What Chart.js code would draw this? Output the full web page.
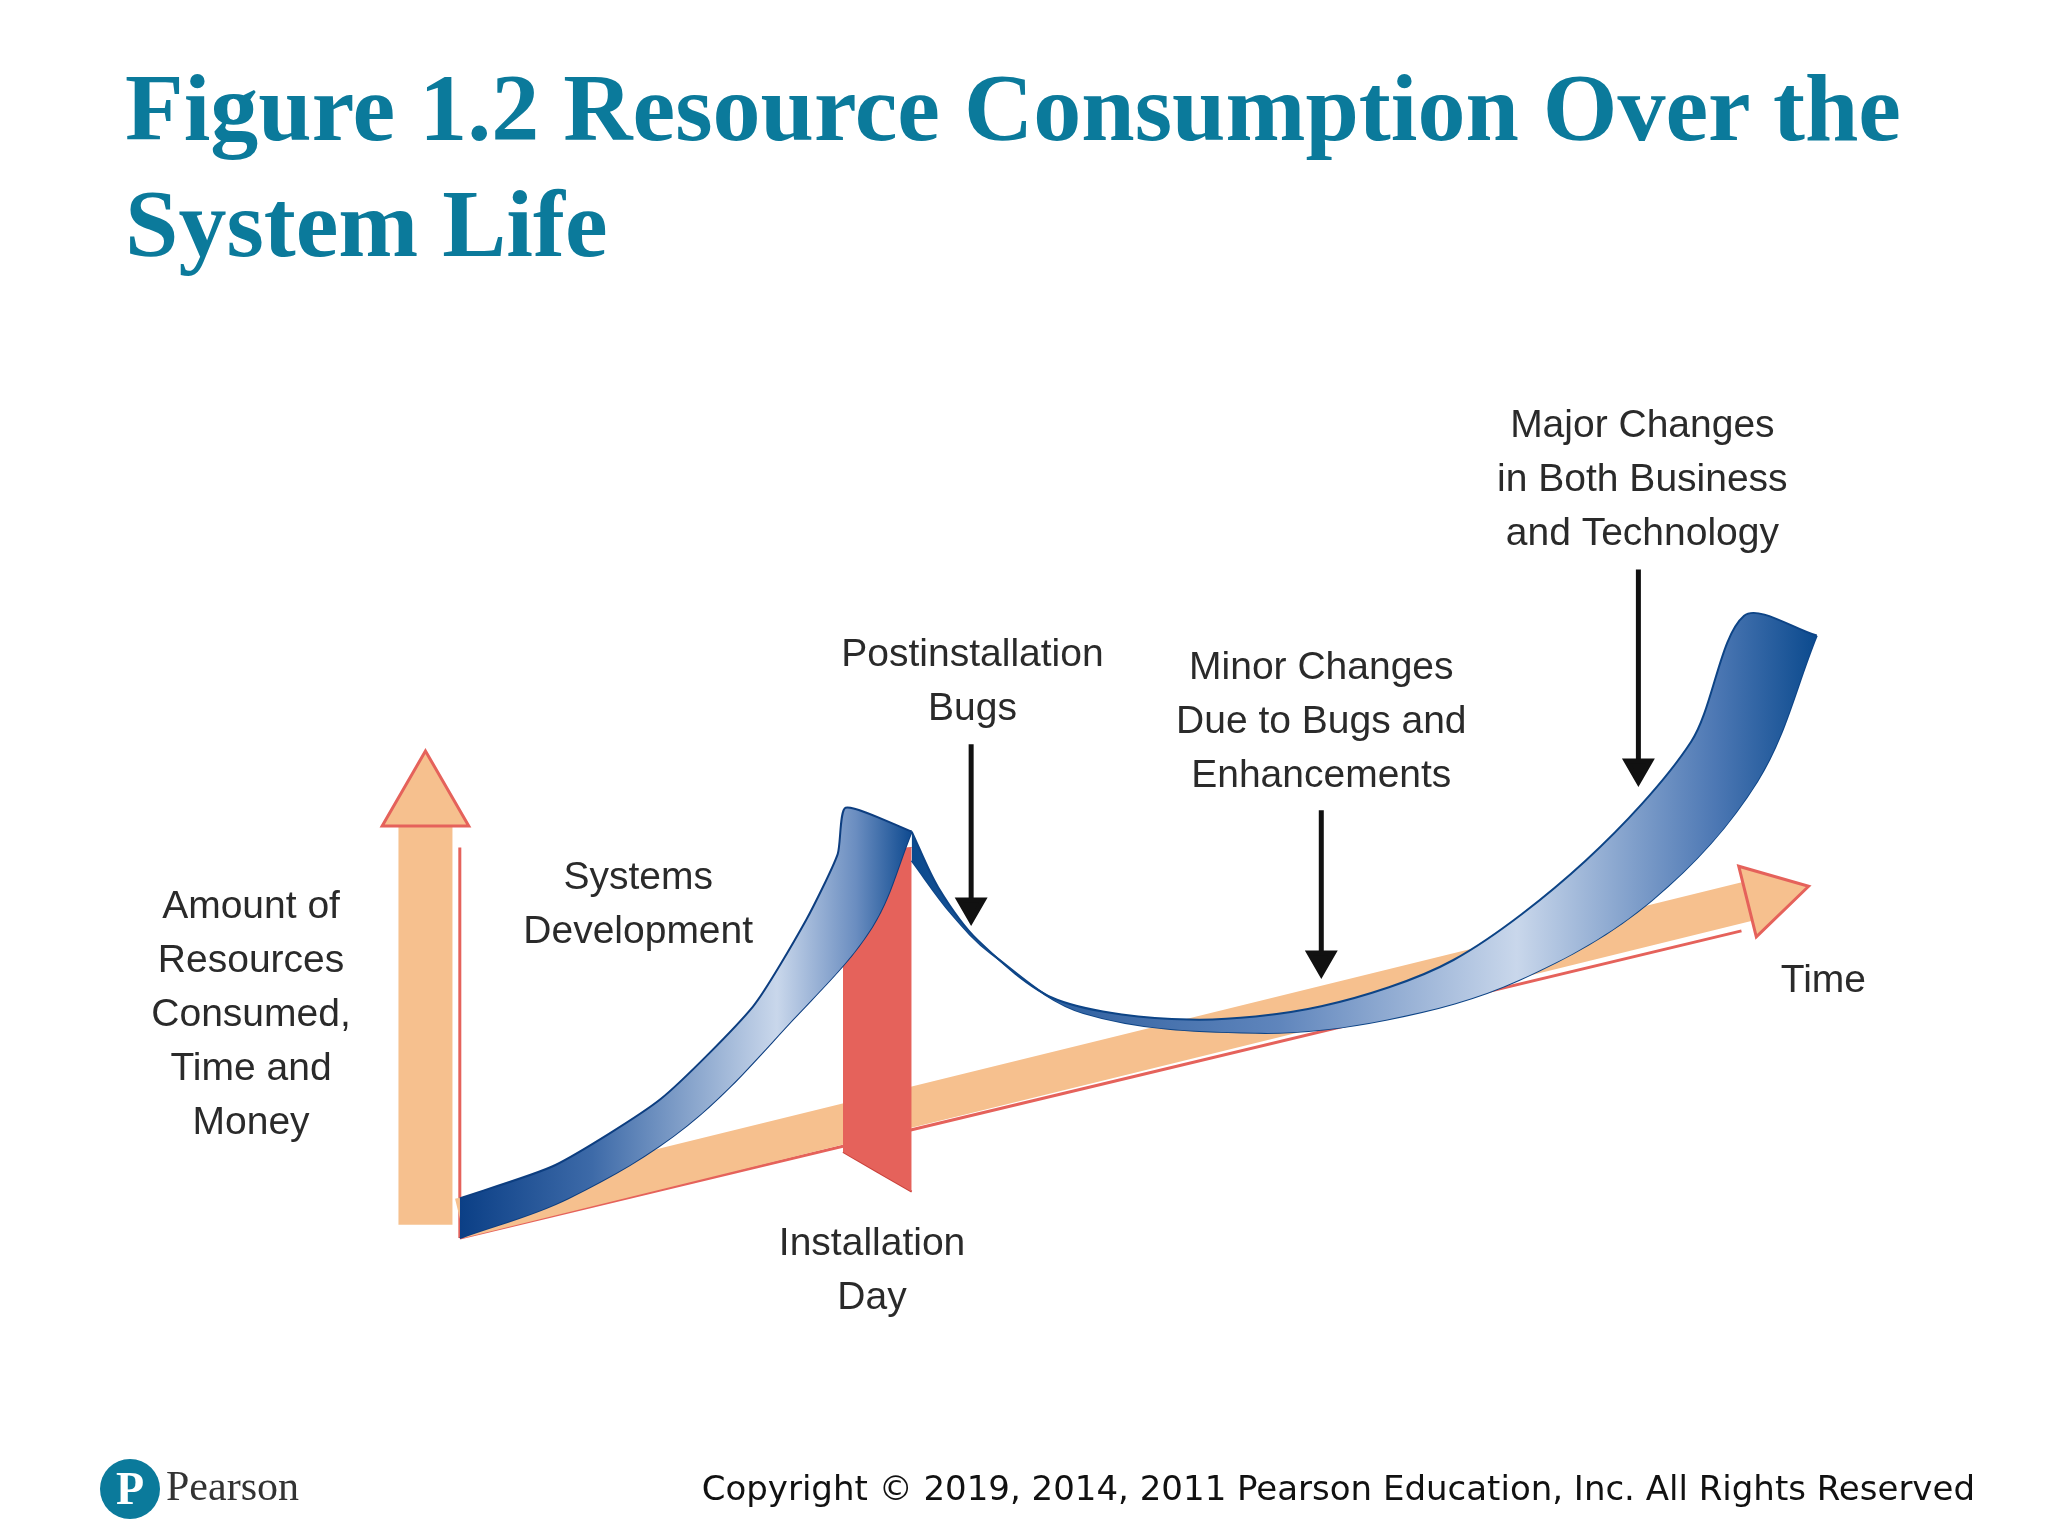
<!DOCTYPE html>
<html>
<head>
<meta charset="utf-8">
<script src="https://cdn.jsdelivr.net/npm/chart.js@4.4.1/dist/chart.umd.min.js"></script>
<style>
  html, body { margin: 0; padding: 0; background: #fff; }
  body { width: 2048px; height: 1536px; position: relative; overflow: hidden; }
  #title { position: absolute; left: 125px; top: 50px; margin: 0; font: bold 96px "Liberation Serif", serif; color: #0B7A9B; line-height: 116px; }
  #wrap { position: absolute; left: 0; top: 0; width: 2048px; height: 1536px; }
  #logo { position: absolute; left: 100px; top: 1459px; width: 60px; height: 60px; border-radius: 50%; background: #0B7A9B; color: #fff; font: bold 46px "Liberation Serif", serif; text-align: center; line-height: 60px; }
  #pearson { position: absolute; left: 166px; top: 1462px; font: 42px "Liberation Serif", serif; color: #333; }
  #copy { position: absolute; right: 73px; top: 1468px; font: 34px "DejaVu Sans", sans-serif; color: #111; }
</style>
</head>
<body>
<h1 id="title">Figure 1.2 Resource Consumption Over the<br>System Life</h1>
<div id="wrap"><canvas id="c"></canvas></div>
<div id="logo">P</div>
<div id="pearson">Pearson</div>
<div id="copy">Copyright © 2019, 2014, 2011 Pearson Education, Inc. All Rights Reserved</div>
<script>
// units: x = time, y = resources consumed
const devBack = [[0, 3], [7.2, 5.5], [15.2, 10.5], [22.2, 17.5], [26.2, 24], [28.6, 29], [29.2, 32.5], [34.2, 30.7]]
const devFront = [[0, 0], [8.2, 3], [17.2, 8.5], [25.2, 16.5], [31.2, 23.5], [34.2, 30.7]]
const useUpper = [[34.2, 30.7], [36.2, 26.5], [39.2, 22.5], [45.2, 18], [55.2, 16.5], [65.2, 17.5], [75.2, 21], [85.2, 28.5], [93.2, 37.5], [97.2, 47], [102.7, 45.5]]
const useLower = [[34.2, 28.5], [37.2, 24.5], [40.2, 21.5], [47.2, 17], [60.2, 15.5], [70.2, 16.5], [80.2, 19.5], [90.2, 25.5], [98.2, 34.5], [102.7, 45.5]]
const installTop = [[29, 29], [34.2, 29.5]]
const installBottom = [[29, 6.5], [34.2, 3.5]]
const resAxis = [[-2.6, 1], [-2.6, 33]]
const resEdge = [[0, 0], [0, 29.5]]
const timeAxis = [[0, 1.5], [99, 25.8]]
const timeEdge = [[0, 0], [97, 23.2]]
const pointers = [
  [[38.7, 37.3], [38.7, 25]],
  [[65.2, 32.3], [65.2, 21]],
  [[89.2, 50.5], [89.2, 35.5]],
]
const labels = [
  { at: [-15.8, 25], lines: ['Amount of', 'Resources', 'Consumed,', 'Time and', 'Money'] },
  { at: [13.5, 27.2], lines: ['Systems', 'Development'] },
  { at: [38.8, 44], lines: ['Postinstallation', 'Bugs'] },
  { at: [65.2, 43], lines: ['Minor Changes', 'Due to Bugs and', 'Enhancements'] },
  { at: [89.5, 61.3], lines: ['Major Changes', 'in Both Business', 'and Technology'] },
  { at: [103.2, 19.4], lines: ['Time'] },
  { at: [31.2, -0.5], lines: ['Installation', 'Day'] },
]

const xy = (pts) => pts.map(([x, y]) => ({ x, y }))
const TAN = '#F6C08E'
const RED = '#E5625B'

function grad(stops) {
  return (ctx) => {
    const chart = ctx.chart
    if (!chart.chartArea) return '#4a6fa5'
    const sx = chart.scales.x
    const x0 = stops[0][0], x1 = stops[stops.length - 1][0]
    const g = chart.ctx.createLinearGradient(sx.getPixelForValue(x0), 0, sx.getPixelForValue(x1), 0)
    stops.forEach(([x, c]) => g.addColorStop((x - x0) / (x1 - x0), c))
    return g
  }
}

const labelPlugin = {
  id: 'labels',
  afterDatasetsDraw(chart) {
    const { ctx, scales: { x, y } } = chart
    ctx.save()
    ctx.font = '39px "Liberation Sans Narrow", "Liberation Sans", sans-serif'
    ctx.fillStyle = '#2a2a2a'
    ctx.textAlign = 'center'
    ctx.textBaseline = 'middle'
    labels.forEach((l) => {
      const px = x.getPixelForValue(l.at[0])
      const py = y.getPixelForValue(l.at[1])
      l.lines.forEach((t, i) => ctx.fillText(t, px, py + i * 54))
    })
    ctx.restore()
  },
}

const datasets = [
  { data: xy(devBack), borderColor: '#0D3E80', borderWidth: 2, fill: '+1', order: 1, tension: 0.2,
    backgroundColor: grad([[0, '#0B3F86'], [10, '#3D6AA8'], [24, '#C9D7EB'], [30, '#6A8DC0'], [34.2, '#0E4A90']]) },
  { data: xy(devFront), borderColor: '#0D3E80', borderWidth: 2, fill: false, order: 1 },
  { data: xy(useUpper), borderColor: '#0D4486', borderWidth: 2, fill: '+1', order: 1, tension: 0.3,
    backgroundColor: grad([[34.2, '#0B4A8E'], [50, '#3E6BA8'], [62, '#5F85BC'], [80, '#C9D7EB'], [95, '#4D78B4'], [102.7, '#0B4A8E']]) },
  { data: xy(useLower), borderColor: '#0D4486', borderWidth: 2, fill: false, order: 1 },
  { data: xy(installTop), borderColor: RED, borderWidth: 1, fill: '+1', backgroundColor: RED, order: 2 },
  { data: xy(installBottom), borderColor: '#C9403A', borderWidth: 2, fill: false, order: 2 },
  { data: xy(resAxis), borderColor: TAN, borderWidth: 54, fill: false, order: 4, borderCapStyle: 'butt',
    pointRadius: [0, 50], pointStyle: 'triangle', pointBackgroundColor: TAN, pointBorderColor: RED, pointBorderWidth: 3 },
  { data: xy(timeAxis), borderColor: TAN, borderWidth: 40, fill: false, order: 3, borderCapStyle: 'butt',
    pointRadius: [0, 42], pointStyle: 'triangle', pointRotation: 76, pointBackgroundColor: TAN, pointBorderColor: RED, pointBorderWidth: 3 },
  { data: xy(timeEdge), borderColor: RED, borderWidth: 3, fill: false, order: 3 },
  { data: xy(resEdge), borderColor: RED, borderWidth: 3, fill: false, order: 3 },
  ...pointers.map((p) => ({ data: xy(p), borderColor: '#111', borderWidth: 5, fill: false, order: 0,
    pointRadius: [0, 14], pointStyle: 'triangle', pointRotation: 180, pointBackgroundColor: '#111', pointBorderColor: '#111' })),
]

new Chart(document.getElementById('c'), {
  type: 'scatter',
  data: { datasets: datasets.map((d) => ({ showLine: true, pointRadius: 0, tension: 0.35, ...d })) },
  options: {
    responsive: true, maintainAspectRatio: false, animation: false,
    layout: { padding: 0, autoPadding: false },
    plugins: { legend: { display: false }, tooltip: { enabled: false } },
    scales: {
      x: { type: 'linear', min: -34.8, max: 120.2, display: false },
      y: { type: 'linear', min: -22.5, max: 93.5, display: false },
    },
  },
  plugins: [labelPlugin],
})
</script>
</body>
</html>
